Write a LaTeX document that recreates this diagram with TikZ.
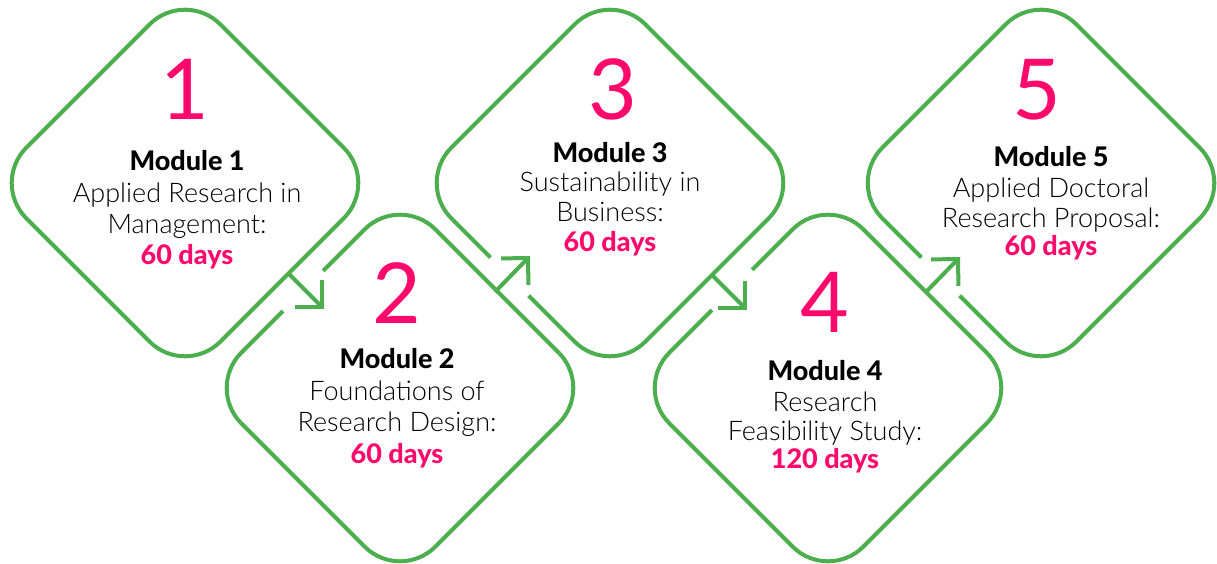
\documentclass[tikz,border=0pt]{standalone}
\usepackage{fontspec}
\usetikzlibrary{shapes.geometric,arrows.meta,calc}
\IfFontExistsTF{Lato Light}{\newfontfamily\lightf{Lato Light}}{\newfontfamily\lightf{Lato}}
\newfontfamily\latof{Lato}
\IfFontExistsTF{Lato Heavy}{\newfontfamily\heavyf{Lato Heavy}}{\newfontfamily\heavyf{Lato}[UprightFont=*, UprightFeatures={FakeBold=0}, BoldFont=*]\let\heavyf\relax\newfontfamily\heavyf{Lato Bold}}
\definecolor{modgreen}{HTML}{4DAE4F}
\definecolor{modpink}{HTML}{FF0A6C}
\begin{document}
\begin{tikzpicture}[x=1pt,y=-1pt,
  box/.style={diamond, aspect=1, draw=modgreen, line width=4pt,
    minimum width=388pt, minimum height=388pt, inner sep=0pt, outer sep=0pt,
    rounded corners=50pt},
  gapcover/.style={draw=white, line width=9pt},
  flow/.style={draw=modgreen, line width=4pt,
    -{Straight Barb[length=19pt, width=38pt]}},
  num/.style={font=\latof\fontsize{84}{84}\selectfont, text=modpink, anchor=base, inner sep=0pt},
  title/.style={font=\heavyf\fontsize{27}{27}\selectfont, anchor=base, inner sep=0pt},
  desc/.style={font=\lightf\fontsize{27}{27}\selectfont, anchor=base, inner sep=0pt},
  days/.style={font=\heavyf\fontsize{27}{27}\selectfont, text=modpink, anchor=base, inner sep=0pt}]
\useasboundingbox[fill=white] (0,0) rectangle (1217,564);

% diamonds
\node[box] (d1) at (185,183) {};
\node[box] (d2) at (400,388) {};
\node[box] (d3) at (610,183) {};
\node[box] (d4) at (828,388) {};
\node[box] (d5) at (1041,183) {};

% breaks in the edges where arrows enter
\draw[gapcover] ($(d2.center)+(-117,-77)$) -- ($(d2.center)+(-77,-117)$);
\draw[gapcover] ($(d3.center)+(-119,74)$) -- ($(d3.center)+(-81,112)$);
\draw[gapcover] ($(d4.center)+(-116,-78)$) -- ($(d4.center)+(-76,-118)$);
\draw[gapcover] ($(d5.center)+(-119,74)$) -- ($(d5.center)+(-81,112)$);

% arrow end points
\coordinate (s12) at ($(d1.center)+(104,91)$);
\coordinate (t12) at ($(s12)+(35,35)$);
\coordinate (s23) at ($(d2.center)+(95,-96)$);
\coordinate (t23) at ($(s23)+(35,-36)$);
\coordinate (s34) at ($(d3.center)+(103,93)$);
\coordinate (t34) at ($(s34)+(34,34)$);
\coordinate (s45) at ($(d4.center)+(97,-95)$);
\coordinate (t45) at ($(s45)+(35,-36)$);
\draw[flow] (s12) -- (t12);
\draw[flow] (s23) -- (t23);
\draw[flow] (s34) -- (t34);
\draw[flow] (s45) -- (t45);

% module 1
\node[num] (n1) at (185,120) {1};
\node[title] (m1) at (187,171) {Module 1};
\node[desc] (m1a) at (187,202) {Applied Research in};
\node[desc] (m1b) at (187,233) {Management:};
\node[days] (m1c) at (187,264) {60 days};
% module 2
\node[num] (n2) at (397,323) {2};
\node[title] (m2) at (397,368) {Module 2};
\node[desc] (m2a) at (397,400) {Foundations of};
\node[desc] (m2b) at (397,431) {Research Design:};
\node[days] (m2c) at (397,463) {60 days};
% module 3
\node[num] (n3) at (613,120) {3};
\node[title] (m3) at (610,163) {Module 3};
\node[desc] (m3a) at (610,192) {Sustainability in};
\node[desc] (m3b) at (610,222) {Business:};
\node[days] (m3c) at (610,251) {60 days};
% module 4
\node[num] (n4) at (825,332) {4};
\node[title] (m4) at (825,380) {Module 4};
\node[desc] (m4a) at (825,411) {Research};
\node[desc] (m4b) at (825,440) {Feasibility Study:};
\node[days] (m4c) at (825,468) {120 days};
% module 5
\node[num] (n5) at (1037,120) {5};
\node[title] (m5) at (1051,167) {Module 5};
\node[desc] (m5a) at (1051,197) {Applied Doctoral};
\node[desc] (m5b) at (1051,227) {Research Proposal:};
\node[days] (m5c) at (1051,255) {60 days};
\end{tikzpicture}
\end{document}
